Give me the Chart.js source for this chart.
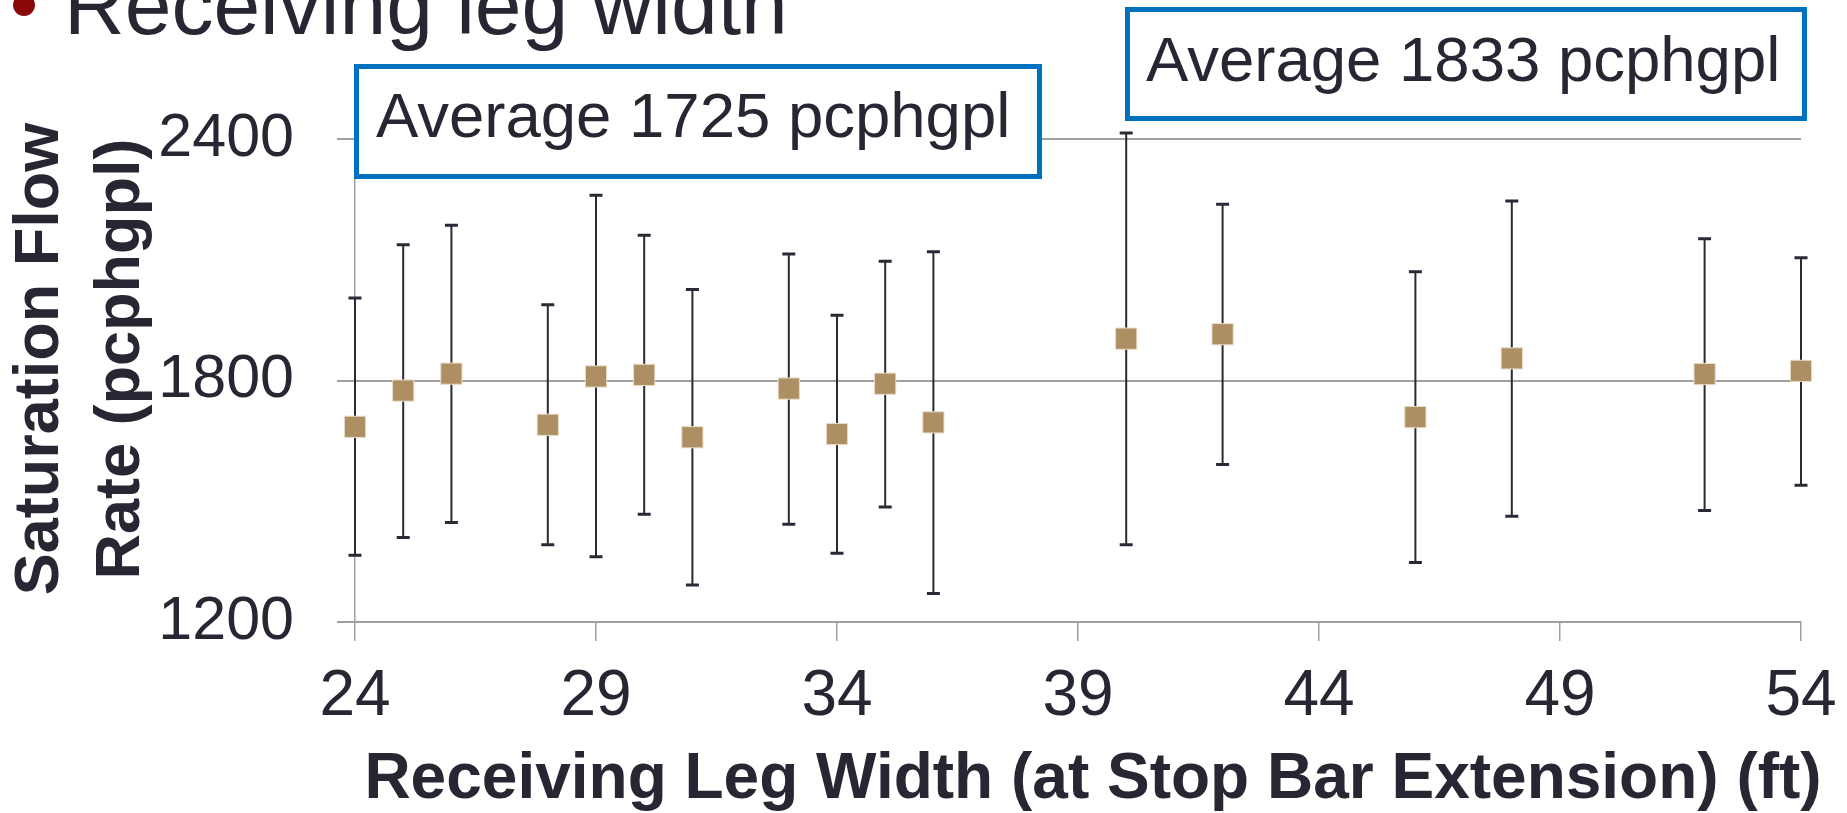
<!DOCTYPE html>
<html>
<head>
<meta charset="utf-8">
<script src="https://cdn.jsdelivr.net/npm/chart.js@4/dist/chart.umd.min.js"></script>
<style>
    html, body { margin: 0; padding: 0; background: #ffffff; }
    #wrap { position: relative; width: 1847px; height: 813px; }
</style>
</head>
<body>
<div id="wrap"><canvas id="flowChart"></canvas></div>
<script>
// receiving leg width (ft)
const legWidths = [24, 25, 26, 28, 29, 30, 31, 33, 34, 35, 36, 40, 42, 46, 48, 52, 54];
// mean saturation flow (pcphgpl)
const flowMeans = [1685, 1775, 1817, 1690, 1810, 1814, 1659, 1780, 1667, 1792, 1696, 1904, 1915, 1709, 1855, 1816, 1824];
const flowUpper = [2005, 2137, 2186, 1988, 2260, 2161, 2026, 2114, 1962, 2096, 2120, 2415, 2238, 2070, 2246, 2152, 2105];
const flowLower = [1366, 1410, 1447, 1392, 1362, 1468, 1292, 1443, 1371, 1486, 1271, 1392, 1591, 1348, 1463, 1477, 1540];

const xTicks = [24, 29, 34, 39, 44, 49, 54];
const yTicks = [1200, 1800, 2400];

const slideTitle = 'Receiving leg width';
const averageNotes = ['Average 1725 pcphgpl', 'Average 1833 pcphgpl'];
const xTitle = 'Receiving Leg Width (at Stop Bar Extension) (ft)';
const yTitle = ['Saturation Flow', 'Rate (pcphgpl)'];

const textColor = '#272733';
const axisGray = '#a0a0a0';
const fontFamily = '"Liberation Sans", Arial, sans-serif';

// error bars, drawn under the markers
const errorBars = {
    id: 'errorBars',
    beforeDatasetsDraw(chart) {
        const { ctx, scales: { x, y } } = chart;
        ctx.save();
        ctx.strokeStyle = '#2a2a36';
        legWidths.forEach((w, i) => {
            const px = x.getPixelForValue(w);
            const top = y.getPixelForValue(flowUpper[i]);
            const bot = y.getPixelForValue(flowLower[i]);
            ctx.lineWidth = 2;
            ctx.beginPath();
            ctx.moveTo(px, top);
            ctx.lineTo(px, bot);
            ctx.stroke();
            ctx.lineWidth = 3;
            ctx.beginPath();
            ctx.moveTo(px - 6.5, top);
            ctx.lineTo(px + 6.5, top);
            ctx.moveTo(px - 6.5, bot);
            ctx.lineTo(px + 6.5, bot);
            ctx.stroke();
        });
        ctx.restore();
    },
};

// axis titles, slide heading and the two average call-outs
const slideText = {
    id: 'slideText',
    afterDraw(chart) {
        const { ctx, chartArea } = chart;
        ctx.save();
        ctx.fillStyle = textColor;

        // axis titles (placed like the original slide, a little off-centre)
        ctx.font = 'bold 64px ' + fontFamily;
        ctx.textAlign = 'center';
        ctx.textBaseline = 'alphabetic';
        ctx.fillText(xTitle, (chartArea.left + chartArea.right) / 2 + 15, 798);

        ctx.save();
        ctx.translate(0, 359);
        ctx.rotate(-Math.PI / 2);
        ctx.font = 'bold 63px ' + fontFamily;
        ctx.textBaseline = 'middle';
        ctx.fillText(yTitle[0], 0, 41);
        ctx.fillText(yTitle[1], 0, 122);
        ctx.restore();

        ctx.textAlign = 'left';
        ctx.textBaseline = 'alphabetic';

        ctx.fillStyle = '#8a0a0a';
        ctx.beginPath();
        ctx.arc(24, 5, 11, 0, Math.PI * 2);
        ctx.fill();

        ctx.fillStyle = textColor;
        ctx.font = '84px ' + fontFamily;
        ctx.fillText(slideTitle, 64, 34);

        const boxes = [
            { x: 356.5, y: 66.5, w: 683, h: 110, tx: 376, ty: 137 },
            { x: 1127.5, y: 9.5, w: 677, h: 109, tx: 1146, ty: 81 },
        ];
        boxes.forEach((b, i) => {
            ctx.fillStyle = '#ffffff';
            ctx.fillRect(b.x, b.y, b.w, b.h);
            ctx.lineWidth = 5;
            ctx.strokeStyle = '#0070c0';
            ctx.strokeRect(b.x, b.y, b.w, b.h);
            ctx.fillStyle = textColor;
            ctx.font = '63.5px ' + fontFamily;
            ctx.fillText(averageNotes[i], b.tx, b.ty);
        });

        ctx.restore();
    },
};

const ctx = document.getElementById('flowChart');
new Chart(ctx.getContext('2d'), {
    type: 'scatter',
    data: {
        datasets: [{
            label: 'Saturation flow',
            data: legWidths.map((w, i) => ({ x: w, y: flowMeans[i] })),
            pointStyle: 'rect',
            pointRadius: 15,
            pointHoverRadius: 15,
            backgroundColor: '#ae8f64',
            borderColor: '#e9dcc6',
            borderWidth: 1,
            clip: false,
        }],
    },
    options: {
        responsive: true,
        maintainAspectRatio: false,
        animation: false,
        events: [],
        layout: {
            padding: { top: 139, right: 46, left: 0, bottom: 0 },
        },
        plugins: {
            legend: { display: false },
            tooltip: { enabled: false },
        },
        scales: {
            x: {
                type: 'linear',
                min: 24,
                max: 54,
                afterBuildTicks: (scale) => { scale.ticks = xTicks.map((v) => ({ value: v })); },
                afterFit: (scale) => {
                    scale.height = 191;
                    scale.paddingLeft = 0;
                    scale.paddingRight = 0;
                },
                ticks: {
                    color: textColor,
                    padding: 18,
                    font: { family: fontFamily, size: 64 },
                },
                grid: {
                    drawOnChartArea: false,
                    drawTicks: true,
                    tickLength: 19,
                    color: axisGray,
                    lineWidth: 1.5,
                },
                border: { color: axisGray, width: 2 },
            },
            y: {
                min: 1200,
                max: 2400,
                afterBuildTicks: (scale) => { scale.ticks = yTicks.map((v) => ({ value: v })); },
                afterFit: (scale) => { scale.width = 355; },
                ticks: {
                    color: textColor,
                    padding: 43,
                    font: { family: fontFamily, size: 61 },
                    callback: (value) => String(value),
                },
                grid: {
                    drawTicks: true,
                    tickLength: 18,
                    color: axisGray,
                    lineWidth: 2,
                },
                border: { color: axisGray, width: 1.5 },
            },
        },
    },
    plugins: [errorBars, slideText],
});
</script>
</body>
</html>
